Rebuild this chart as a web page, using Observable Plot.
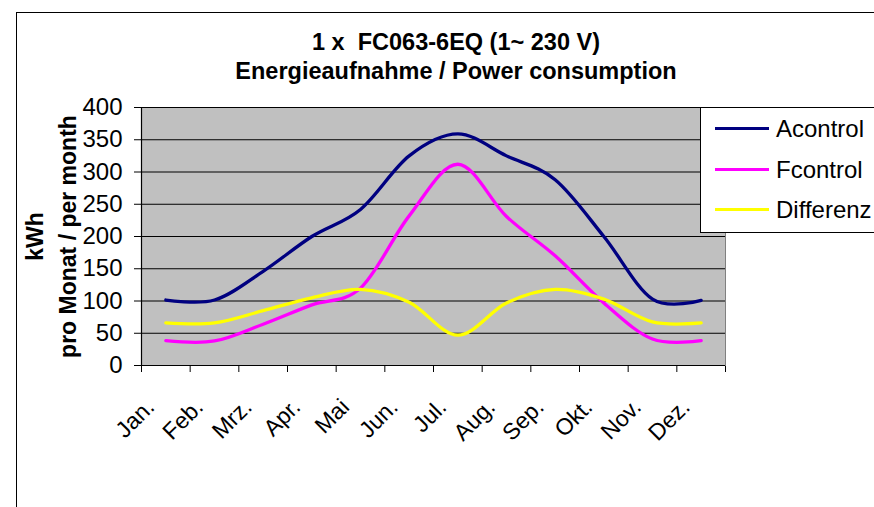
<!DOCTYPE html>
<html>
<head>
<meta charset="utf-8">
<script src="https://cdn.jsdelivr.net/npm/d3@7"></script>
<script src="https://cdn.jsdelivr.net/npm/@observablehq/plot@0.6"></script>
<style>
  html, body { margin: 0; padding: 0; background: #fff; overflow: hidden; }
  #wrap { position: relative; width: 874px; height: 507px; overflow: hidden; font-family: "Liberation Sans", Arial, sans-serif; color: #000; }
  #frame { position: absolute; left: 16px; top: 12px; width: 2000px; height: 2000px; border: 1px solid #000; box-sizing: border-box; }
  #title { position: absolute; left: 0; top: 28px; width: 912px; text-align: center; font-weight: bold; font-size: 23.5px; line-height: 29px; white-space: pre; }
  #chart { position: absolute; left: 0; top: 95px; }
  #legend { position: absolute; left: 700px; top: 107px; width: 300px; height: 126px; background: #fff; border: 1px solid #000; box-sizing: border-box; }
  .item { position: absolute; left: 14px; height: 28px; font-size: 24px; line-height: 28px; white-space: nowrap; }
  .sw { position: absolute; left: 0; top: 12px; width: 54px; height: 3px; }
  .lab { position: absolute; left: 61px; top: 0; }
</style>
</head>
<body>
<div id="wrap">
  <div id="frame"></div>
  <div id="title"></div>
  <div id="chart"></div>
  <div id="legend"></div>
</div>
<script>
const titleLines = ["1 x  FC063-6EQ (1~ 230 V)", "Energieaufnahme / Power consumption"];
const months = ["Jan.", "Feb.", "Mrz.", "Apr.", "Mai", "Jun.", "Jul.", "Aug.", "Sep.", "Okt.", "Nov.", "Dez."];
const acontrol  = [101.5, 101.5, 146, 200, 242, 325, 359, 325, 288, 200, 103, 101];
const fcontrol  = [38.5, 38, 64, 94, 120, 232, 312, 231, 170, 97, 41, 38.5];
const differenz = [66, 66, 85, 105, 118, 98, 47, 97, 118, 103, 67.5, 66];
const seriesNames = ["Acontrol", "Fcontrol", "Differenz"];
const seriesColors = ["#000080", "#FF00FF", "#FFFF00"];
const yTicks = [0, 50, 100, 150, 200, 250, 300, 350, 400];
const yTitle = ["kWh", "pro Monat / per month"];

document.getElementById("title").textContent = titleLines.join("\n");

const seriesValues = [acontrol, fcontrol, differenz];
const rows = [];
seriesValues.forEach((vals, s) => vals.forEach((v, i) => rows.push({series: seriesNames[s], i, v})));
const xBounds = d3.range(months.length + 1).map(k => k - 0.5);

const chart = Plot.plot({
  width: 874,
  height: 412,
  marginLeft: 141,
  marginRight: 149,
  marginTop: 12,
  marginBottom: 142,
  style: {fontFamily: "'Liberation Sans', Arial, sans-serif", fontSize: "24px", background: "transparent", color: "#000", overflow: "visible"},
  x: {type: "linear", domain: [-0.5, months.length - 0.5], ticks: xBounds, tickSize: 7, tickFormat: () => "", label: null},
  y: {domain: [0, 400], ticks: yTicks, tickSize: 7, tickPadding: 12, label: null, tickFormat: d => String(d)},
  color: {domain: seriesNames, range: seriesColors},
  marks: [
    Plot.frame({fill: "#C0C0C0", stroke: "#808080"}),
    Plot.ruleY(yTicks.filter(d => d > 0), {stroke: "#000", strokeWidth: 1}),
    Plot.line(rows, {x: "i", y: "v", z: "series", stroke: "series", strokeWidth: 3.3, curve: "cardinal", tension: 0}),
    Plot.ruleX([-0.5], {stroke: "#000", strokeWidth: 1.2}),
    Plot.ruleY([0], {stroke: "#000", strokeWidth: 1.2}),
    Plot.text(months, {x: (d, i) => i, y: () => 0, text: d => d, rotate: -45, textAnchor: "end", lineAnchor: "bottom", dx: -10, dy: 43, fontSize: 23}),
    Plot.text([yTitle[0]], {frameAnchor: "left", rotate: -90, text: d => d, dx: -99, textAnchor: "middle", lineAnchor: "bottom", fontWeight: "bold", fontSize: 23}),
    Plot.text([yTitle[1]], {frameAnchor: "left", rotate: -90, text: d => d, dx: -66, textAnchor: "middle", lineAnchor: "bottom", fontWeight: "bold", fontSize: 23})
  ]
});
document.getElementById("chart").appendChild(chart);

const legend = document.getElementById("legend");
const legendTops = [7, 48, 88];
seriesNames.forEach((name, k) => {
  const item = document.createElement("div");
  item.className = "item";
  item.style.top = legendTops[k] + "px";
  const sw = document.createElement("div");
  sw.className = "sw";
  sw.style.background = seriesColors[k];
  const lab = document.createElement("div");
  lab.className = "lab";
  lab.textContent = name;
  item.appendChild(sw);
  item.appendChild(lab);
  legend.appendChild(item);
});
</script>
</body>
</html>
